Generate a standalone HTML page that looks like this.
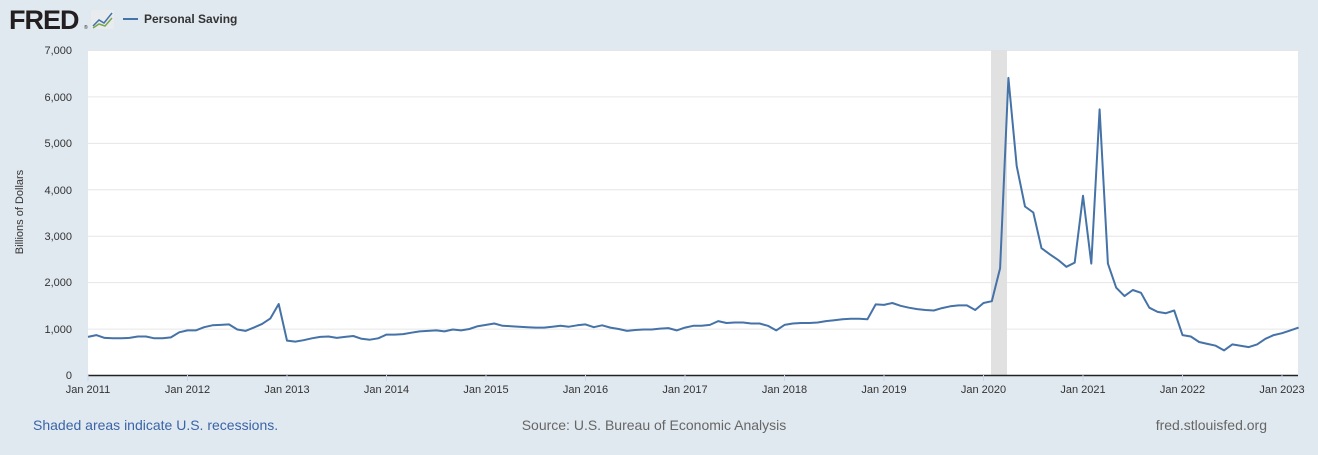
<!DOCTYPE html>
<html><head><meta charset="utf-8"><style>
body{margin:0;width:1318px;height:450px;background:#e1e9f0;font-family:"Liberation Sans",sans-serif;overflow:hidden}
</style></head><body>
<svg width="1318" height="450" xmlns="http://www.w3.org/2000/svg" font-family="Liberation Sans, sans-serif">
<rect width="1318" height="450" fill="#e1e9f0"/>
<text x="9" y="29" font-size="27" font-weight="bold" fill="#231f20" letter-spacing="-1">FRED</text>
<text x="84" y="29" font-size="5" fill="#231f20">®</text>
<rect x="91" y="10" width="23" height="19" fill="#e8ecef" rx="2"/>
<polyline points="93,26 99,20 104,23 112,13" fill="none" stroke="#4572a7" stroke-width="1.5"/>
<polyline points="93,28 99,24 105,26 112,18" fill="none" stroke="#7aa84a" stroke-width="1.5"/>
<line x1="123" y1="19" x2="138" y2="19" stroke="#4572a7" stroke-width="2"/>
<text x="144" y="23" font-size="12" fill="#333" font-weight="bold">Personal Saving</text>
<rect x="88" y="50" width="1210" height="325" fill="#fff"/>
<g stroke="#e6e6e6" stroke-width="1">
<line x1="88" y1="50.5" x2="1298" y2="50.5"/><line x1="88" y1="96.9" x2="1298" y2="96.9"/><line x1="88" y1="143.4" x2="1298" y2="143.4"/><line x1="88" y1="189.8" x2="1298" y2="189.8"/><line x1="88" y1="236.2" x2="1298" y2="236.2"/><line x1="88" y1="282.6" x2="1298" y2="282.6"/><line x1="88" y1="329.1" x2="1298" y2="329.1"/>
</g>
<rect x="991" y="50" width="16" height="325" fill="#e1e1e1"/>
<line x1="88" y1="375.5" x2="1298" y2="375.5" stroke="#222" stroke-width="1.5"/>
<g font-size="11" fill="#333" text-anchor="end">
<text x="72" y="54">7,000</text><text x="72" y="101">6,000</text><text x="72" y="147">5,000</text><text x="72" y="194">4,000</text><text x="72" y="240">3,000</text><text x="72" y="286">2,000</text><text x="72" y="333">1,000</text><text x="72" y="379">0</text>
</g>
<text transform="translate(23,212) rotate(-90)" font-size="11" fill="#333" text-anchor="middle">Billions of Dollars</text>
<g id="xt" font-size="11" fill="#333" text-anchor="middle"></g>
<polyline id="ln" fill="none" stroke="#4572a7" stroke-width="2" stroke-linejoin="round"/>
<text x="33" y="430" font-size="14" fill="#3a64a7">Shaded areas indicate U.S. recessions.</text>
<text x="654" y="430" font-size="14" fill="#666" text-anchor="middle">Source: U.S. Bureau of Economic Analysis</text>
<text x="1267" y="430" font-size="14" fill="#666" text-anchor="end">fred.stlouisfed.org</text>
</svg>
<script>
var d=[820,860,800,790,790,800,830,830,790,790,810,920,
960,960,1030,1070,1080,1090,980,950,1020,1100,1220,1530,
740,720,750,790,820,830,800,820,840,780,760,790,
870,870,880,910,940,950,960,940,980,960,990,1050,
1080,1110,1060,1050,1040,1030,1020,1020,1040,1060,1040,1070,
1090,1030,1070,1020,990,950,970,980,980,1000,1010,960,
1020,1060,1060,1080,1160,1120,1130,1130,1110,1110,1060,960,
1080,1110,1120,1120,1130,1160,1180,1200,1210,1210,1200,1520,
1510,1550,1490,1450,1420,1400,1390,1440,1480,1500,1500,1400,
1550,1590,2300,6400,4500,3630,3500,2730,2600,2480,2330,2420,
3860,2400,5720,2400,1880,1700,1830,1770,1450,1360,1330,1390,
860,830,710,670,630,530,660,630,600,660,780,860,
900,960,1020];
var s=8.2917,p=[];
for(var i=0;i<d.length;i++)p.push((88+i*s).toFixed(1)+","+(375-d[i]*0.046429).toFixed(1));
document.getElementById("ln").setAttribute("points",p.join(" "));
var g=document.getElementById("xt"),h="";
for(var y=0;y<13;y++){var x=88+y*12*s;h+='<line x1="'+x+'" y1="375" x2="'+x+'" y2="381" stroke="#ccd6eb"/><text x="'+x+'" y="393">Jan '+(2011+y)+'</text>';}
g.innerHTML=h;
</script>
</body></html>
